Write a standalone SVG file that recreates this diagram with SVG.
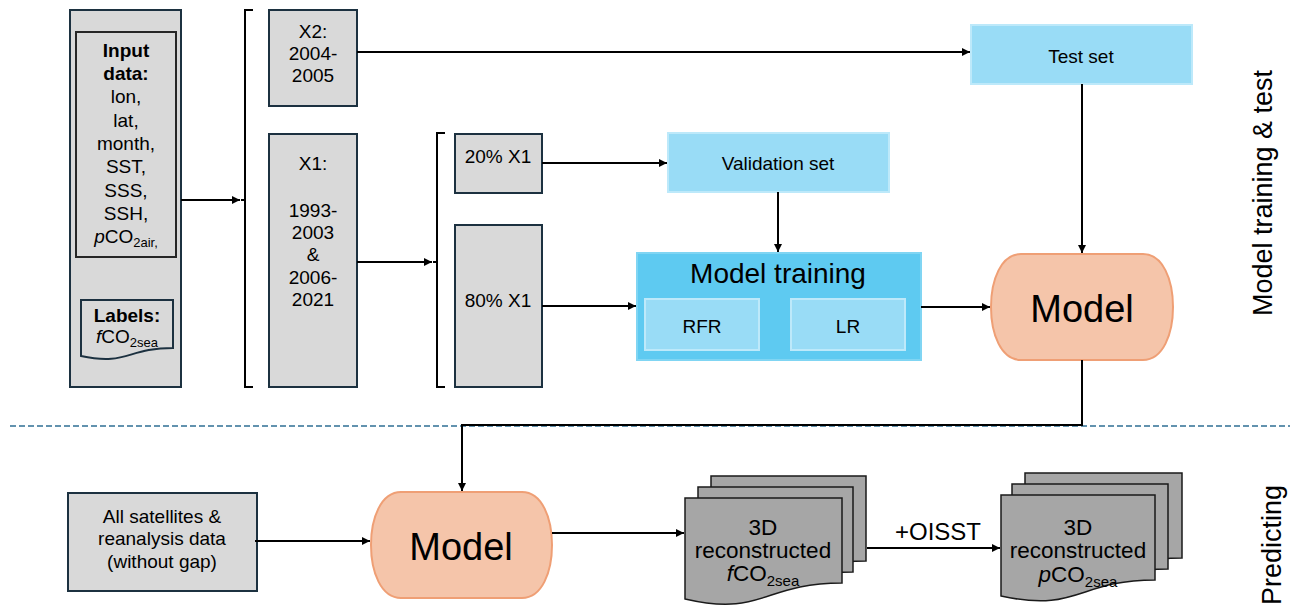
<svg xmlns="http://www.w3.org/2000/svg" width="1290" height="607" viewBox="0 0 1290 607">
<style>
text{font-family:"Liberation Sans",Arial,sans-serif;fill:#000;text-anchor:middle}
.gray{fill:#d9d9d9;stroke:#1c3140;stroke-width:2}
.inner{fill:#d9d9d9;stroke:#262626;stroke-width:2}
.lb{fill:#99dcf6;stroke:#bde9fa;stroke-width:2}
.mt{fill:#5ecaf1;stroke:#80d5f3;stroke-width:2}
.model{fill:#f5c5aa;stroke:#ef9f75;stroke-width:2}
.doc{fill:#a6a6a6;stroke:#1a1a1a;stroke-width:1.5}
.conn{fill:none;stroke:#000;stroke-width:2}
.arr{marker-end:url(#ah)}
.br{fill:none;stroke:#000;stroke-width:2}
.t19{font-size:19px}
.b19{font-size:19px;font-weight:bold}
.t22{font-size:22.5px}
.big{font-size:38px}
.side{font-size:27px}
</style>
<defs>
<marker id="ah" markerUnits="userSpaceOnUse" markerWidth="9" markerHeight="9" refX="8" refY="4" orient="auto">
<path d="M0,0 L8,4 L0,8 Z" fill="#000"/>
</marker>
</defs>
<rect width="1290" height="607" fill="#fff"/>

<line x1="10" y1="426" x2="1290" y2="426" stroke="#2f6f94" stroke-width="1.5" stroke-dasharray="6 3"/>

<g id="input">
<rect class="gray" x="70" y="10" width="111" height="377"/>
<rect class="inner" x="76" y="32" width="100" height="225"/>
<text class="b19" x="126" y="57">Input</text>
<text class="b19" x="126" y="80">data:</text>
<text class="t19" x="126" y="103">lon,</text>
<text class="t19" x="126" y="127">lat,</text>
<text class="t19" x="126" y="150">month,</text>
<text class="t19" x="126" y="173">SST,</text>
<text class="t19" x="126" y="197">SSS,</text>
<text class="t19" x="126" y="220">SSH,</text>
<text class="t19" x="126" y="243"><tspan font-style="italic">p</tspan>CO<tspan font-size="13" dy="4">2air,</tspan></text>
<path class="gray" d="M81,300 H173 V348 C127,348 127,366 81,356 Z"/>
<text class="b19" x="127" y="322">Labels:</text>
<text class="t19" x="127" y="343"><tspan font-style="italic">f</tspan>CO<tspan font-size="13" dy="4">2sea</tspan></text>
</g>

<g id="brackets">
<path class="br" d="M253,10 H245 V387 H253 M245,200 H241"/>
<path class="br" d="M445,133 H437 V387 H445 M437,262 H433"/>
</g>

<g id="x2">
<rect class="gray" x="269" y="10" width="88" height="96"/>
<text class="t19" x="313" y="38">X2:</text>
<text class="t19" x="313" y="60">2004-</text>
<text class="t19" x="313" y="82">2005</text>
</g>

<g id="x1">
<rect class="gray" x="269" y="134" width="88" height="253"/>
<text class="t19" x="313" y="170">X1:</text>
<text class="t19" x="313" y="217">1993-</text>
<text class="t19" x="313" y="239">2003</text>
<text class="t19" x="313" y="261">&amp;</text>
<text class="t19" x="313" y="284">2006-</text>
<text class="t19" x="313" y="306">2021</text>
</g>

<g id="x1-20">
<rect class="gray" x="455" y="134" width="87" height="59"/>
<text class="t19" x="498" y="163">20% X1</text>
</g>

<g id="x1-80">
<rect class="gray" x="455" y="225" width="87" height="162"/>
<text class="t19" x="498" y="307">80% X1</text>
</g>

<g id="validation">
<rect class="lb" x="668" y="133" width="221" height="59"/>
<text class="t19" x="778" y="170">Validation set</text>
</g>

<g id="test">
<rect class="lb" x="971" y="25" width="221" height="59"/>
<text class="t19" x="1081" y="63">Test set</text>
</g>

<g id="training">
<rect class="mt" x="637" y="253" width="284" height="107"/>
<text x="778" y="283" font-size="28">Model training</text>
<rect class="lb" x="645" y="299" width="114" height="51"/>
<text class="t19" x="702" y="333">RFR</text>
<rect class="lb" x="791" y="299" width="114" height="51"/>
<text class="t19" x="848" y="333">LR</text>
</g>

<g id="model-top">
<path class="model" d="M1021,254 H1143 C1163,254 1173,280 1173,307 C1173,334 1163,360 1143,360 H1021 C1001,360 991,334 991,307 C991,280 1001,254 1021,254 Z"/>
<text class="big" x="1082" y="322">Model</text>
</g>

<g id="all-data">
<rect class="gray" x="68" y="493" width="189" height="98"/>
<text class="t19" x="162" y="523">All satellites &amp;</text>
<text class="t19" x="162" y="545">reanalysis data</text>
<text class="t19" x="162" y="568">(without gap)</text>
</g>

<g id="model-bottom">
<path class="model" d="M401,492 H522 C542,492 552,518 552,545 C552,572 542,598 522,598 H401 C381,598 371,572 371,545 C371,518 381,492 401,492 Z"/>
<text class="big" x="461" y="560">Model</text>
</g>

<g id="fco2-stack">
<path class="doc" d="M711,476 H866 V561 C788,561 788,593 711,575 Z"/>
<path class="doc" d="M698,487 H853 V572 C776,572 776,604 698,586 Z"/>
<path class="doc" d="M685,498 H842 V583 C763,583 763,617 685,599 Z"/>
<text class="t22" x="763" y="535">3D</text>
<text class="t22" x="763" y="558">reconstructed</text>
<text class="t22" x="763" y="581"><tspan font-style="italic">f</tspan>CO<tspan font-size="15" dy="5">2sea</tspan></text>
</g>

<g id="pco2-stack">
<path class="doc" d="M1025,473 H1182 V558 C1103,558 1103,590 1025,572 Z"/>
<path class="doc" d="M1012,484 H1168 V569 C1090,569 1090,601 1012,583 Z"/>
<path class="doc" d="M1001,495 H1155 V580 C1078,580 1078,613 1001,596 Z"/>
<text class="t22" x="1078" y="535">3D</text>
<text class="t22" x="1078" y="558">reconstructed</text>
<text class="t22" x="1078" y="582"><tspan font-style="italic">p</tspan>CO<tspan font-size="15" dy="5">2sea</tspan></text>
</g>

<g id="connectors">
<path class="conn arr" d="M181,200 H240"/>
<path class="conn arr" d="M357,52 H970"/>
<path class="conn arr" d="M357,262 H432"/>
<path class="conn arr" d="M542,163 H667"/>
<path class="conn arr" d="M542,306 H636"/>
<path class="conn arr" d="M778,192 V252"/>
<path class="conn arr" d="M1082,84 V253"/>
<path class="conn arr" d="M921,307 H990"/>
<path class="conn arr" d="M1082,360 V425 H462 V491"/>
<path class="conn arr" d="M255,541 H370"/>
<path class="conn arr" d="M552,533 H684"/>
<path class="conn arr" d="M867,548 H1000"/>
<text x="938" y="540" font-size="24">+OISST</text>
</g>

<g id="side-labels">
<text class="side" transform="translate(1272,193) rotate(-90)">Model training &amp; test</text>
<text class="side" transform="translate(1281,545) rotate(-90)">Predicting</text>
</g>
</svg>
